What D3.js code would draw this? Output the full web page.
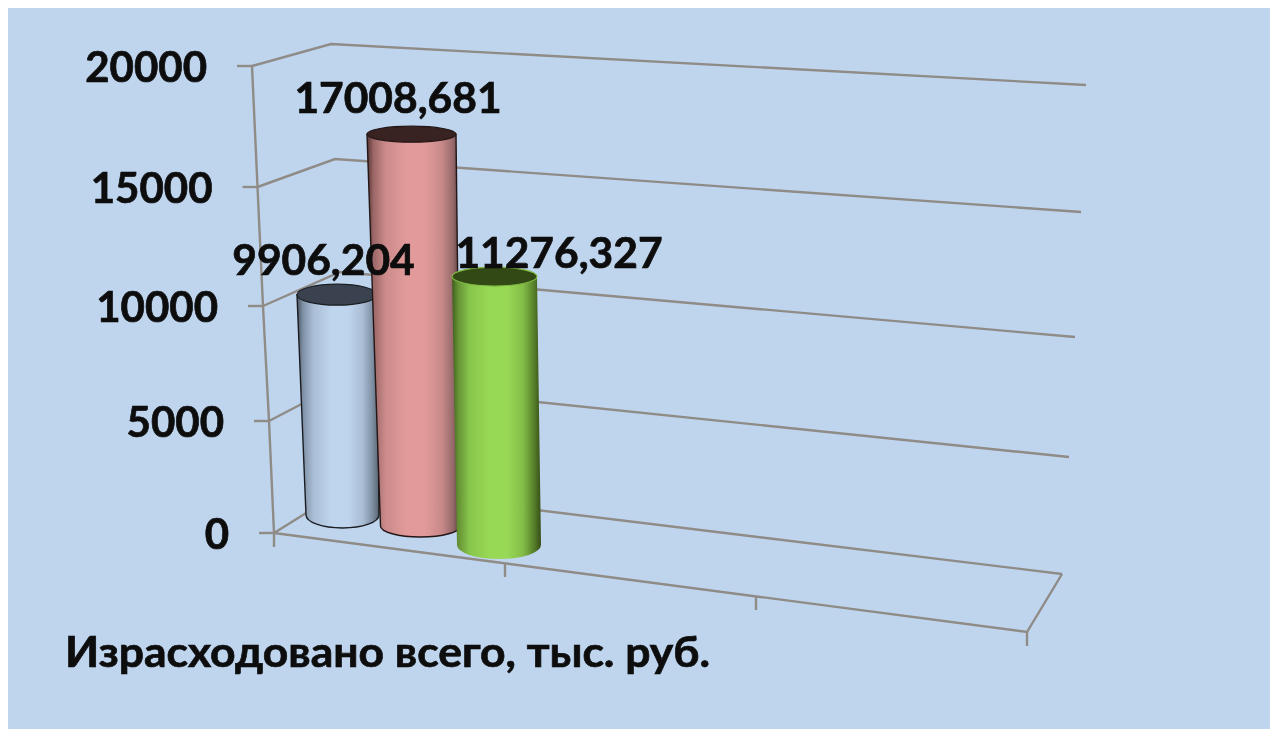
<!DOCTYPE html>
<html><head><meta charset="utf-8">
<script src="https://cdn.jsdelivr.net/npm/d3@7"></script>
<style>html,body{margin:0;padding:0;background:#fff}svg{display:block}
text{font-family:Lato,"Noto Sans",sans-serif;font-weight:700;fill:#0a0a0a;stroke:#0a0a0a;stroke-width:.7}</style>
</head><body><svg id="c" width="1270" height="729"></svg>
<script>
// --- data
const yTicks = [0, 5000, 10000, 15000, 20000];
const seriesNames = ["Ряд 1", "Ряд 2", "Ряд 3"];
const seriesValues = [9906.204, 17008.681, 11276.327];
const valueLabels = ["9906,204", "17008,681", "11276,327"];
const categoryLabel = "Израсходовано всего, тыс. руб.";
const categorySlots = [0, 1, 2, 3];

// --- styles / layout of the projected 3D box
const gridColor = "#8f8b87";
const palette = [
  {top:"#3a434f", stops:["#46525f","#7d8fa3","#a9bdd5","#bfd5ee","#bfd5ee","#a9bdd4","#7f90a4","#56636f"], stroke:"#1a1d22"},
  {top:"#372120", stops:["#553535","#9c6767","#cc8b8b","#e29a9a","#e29a9a","#c98989","#96696a","#553a3a"], stroke:"#241616"},
  {top:"#324813", stops:["#3f5e1e","#659234","#88c64c","#97d854","#97d854","#83bd48","#57802a","#374d18"], stroke:"none"}
];
const stopOffsets = [0, .07, .2, .42, .62, .8, .92, 1];

const svg = d3.select("#c");
const soft = svg.append("defs").append("filter").attr("id","soft")
  .attr("x",0).attr("y",0).attr("filterUnits","userSpaceOnUse")
  .attr("width",1270).attr("height",729);
soft.append("feGaussianBlur").attr("stdDeviation",.6);

svg.append("rect").attr("x",8).attr("y",8).attr("width",1262).attr("height",721).attr("fill","#bfd5ee");
const root = svg.append("g").attr("filter","url(#soft)");

// piecewise scales take the perspective foreshortening of each box edge
const frontY = d3.scaleLinear().domain(yTicks).range([533, 421, 306, 187, 66]);
const frontX = d3.scaleLinear().domain(yTicks).range([274, 269, 263, 257.5, 252]);
const backY  = d3.scaleLinear().domain(yTicks).range([487, 382, 272, 159, 44]);
const backX  = d3.scaleLinear().domain(yTicks).range([348, 344, 340, 335, 331]);
const rightY = d3.scaleLinear().domain(yTicks).range([574, 457, 337, 212, 85]);
const rightX = d3.scaleLinear().domain(yTicks).range([1062, 1069, 1075, 1081, 1086]);
const floorX = d3.scaleLinear().domain(categorySlots).range([274, 505, 756, 1027]);
const floorY = d3.scaleLinear().domain(categorySlots).range([533, 563, 596, 632]);

const line = d3.line();
const g = root.append("g").attr("fill","none").attr("stroke",gridColor).attr("stroke-width",2.4);

// walls
g.selectAll(".grid").data(yTicks).join("path").attr("class","grid")
  .attr("d", t => line([[frontX(t),frontY(t)],[backX(t),backY(t)],[rightX(t),rightY(t)]]));
// value axis + ticks
g.append("path").attr("d", line(yTicks.map(t => [frontX(t),frontY(t)])));
g.selectAll(".ytick").data(yTicks).join("path").attr("class","ytick")
  .attr("d", t => line([[frontX(t)-15,frontY(t)],[frontX(t),frontY(t)]]));
// floor edge + ticks
g.append("path").attr("d", line([[floorX(0),floorY(0)],[floorX(3),floorY(3)],[rightX(0),rightY(0)]]));
g.selectAll(".xtick").data(categorySlots).join("path").attr("class","xtick")
  .attr("d", s => line([[floorX(s),floorY(s)],[floorX(s),floorY(s)+14]]));

// tick labels
root.selectAll(".ylab").data(yTicks).join("text").attr("class","ylab")
  .attr("x", t => frontX(t)-45).attr("y", t => frontY(t)+16)
  .attr("text-anchor","end").attr("font-size",42).text(t => t);

// cylinders
const defs = svg.select("defs");
palette.forEach((p,i) => {
  const lg = defs.append("linearGradient").attr("id","cyl"+i);
  stopOffsets.forEach((o,k) => lg.append("stop").attr("offset",o).attr("stop-color",p.stops[k]));
});
// floor centre, foot radii, head radii and depth factor of each cylinder
const barGeom = [
  {cx:342.5, cy:515, rx:36.5, ry:13, trx:40,   try_:10.5, topCx:337,   k:.98},
  {cx:420.5, cy:526, rx:40,   ry:11, trx:44.5, try_:8,    topCx:411.5, k:.993},
  {cx:499,   cy:545, rx:42,   ry:14, trx:42.5, try_:9.5,  topCx:494.5, k:1.043}
];
const bars = root.append("g").selectAll("g").data(seriesValues).join("g");
bars.each(function(v,i){
  const b = barGeom[i], p = palette[i];
  const topY = b.cy - (frontY(0) - frontY(v)) * b.k;
  const sel = d3.select(this);
  sel.append("path")
    .attr("d", `M${b.topCx-b.trx},${topY} L${b.cx-b.rx},${b.cy} A${b.rx},${b.ry} 0 0 0 ${b.cx+b.rx},${b.cy} L${b.topCx+b.trx},${topY} Z`)
    .attr("fill",`url(#cyl${i})`).attr("stroke",p.stroke).attr("stroke-width",1.4);
  sel.append("ellipse").attr("cx",b.topCx).attr("cy",topY).attr("rx",b.trx).attr("ry",b.try_)
    .attr("fill",p.top).attr("stroke",p.stroke === "none" ? "#7fb843" : p.stroke).attr("stroke-width",1.2);
});

// value labels, anchored above each cylinder head
const labelOffsets = [[-13.5,20],[-13.5,21],[64.5,9]];
root.selectAll(".vlab").data(seriesValues).join("text").attr("class","vlab")
  .attr("x",(v,i) => barGeom[i].topCx + labelOffsets[i][0])
  .attr("y",(v,i) => barGeom[i].cy - (frontY(0) - frontY(v)) * barGeom[i].k - labelOffsets[i][1])
  .attr("text-anchor","middle").attr("font-size",42.5).text((v,i) => valueLabels[i]);

root.append("text").attr("x",65).attr("y",667).attr("font-size",42)
  .attr("textLength",645).attr("lengthAdjust","spacingAndGlyphs").text(categoryLabel);
</script></body></html>
